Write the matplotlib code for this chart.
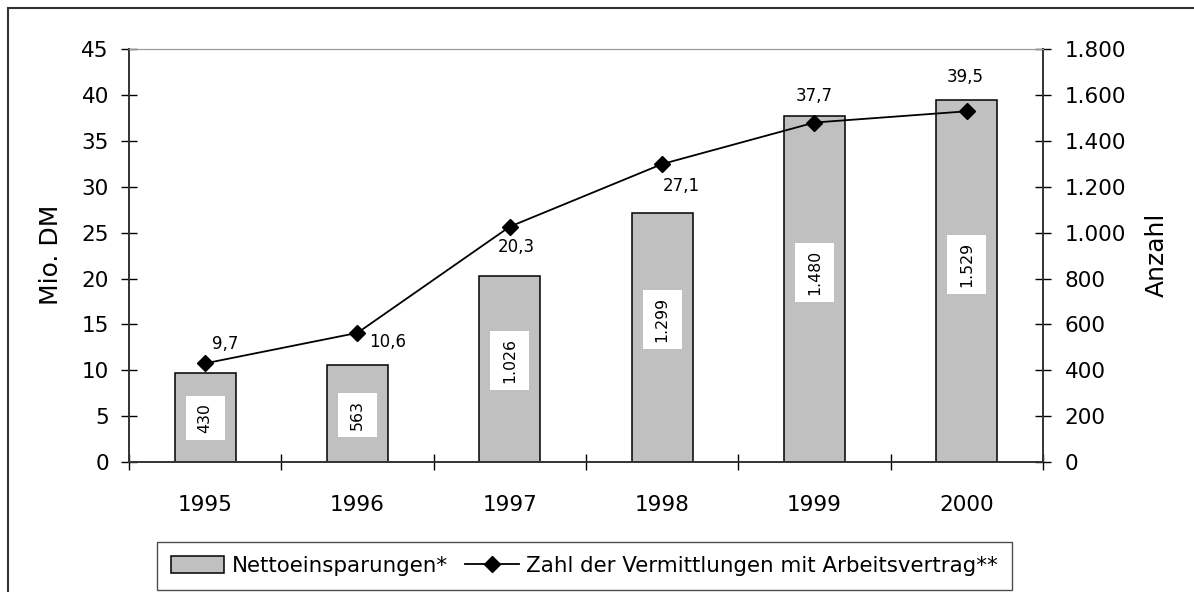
import numpy as np
import matplotlib
matplotlib.use("Agg")
import matplotlib.pyplot as plt
from matplotlib.patches import Rectangle, Patch
from matplotlib.lines import Line2D

plt.rcParams['font.family'] = ['DejaVu Sans']

years = ['1995', '1996', '1997', '1998', '1999', '2000']
einsparungen = [9.7, 10.6, 20.3, 27.1, 37.7, 39.5]          # Mio. DM (Balken)
vermittlungen = [430, 563, 1026, 1299, 1480, 1529]         # Anzahl (Linie)
einsp_labels = ['9,7', '10,6', '20,3', '27,1', '37,7', '39,5']
verm_labels = ['430', '563', '1.026', '1.299', '1.480', '1.529']
left_ticks = list(range(0, 50, 5))
right_ticks = list(range(0, 2000, 200))
right_ticklabels = ['0', '200', '400', '600', '800', '1.000', '1.200', '1.400', '1.600', '1.800']

# label placement: pixel offsets from the line marker, y of the white boxes on the left axis
einsp_offsets = [(20, 19), (30, -9), (7, -20), (19, -22), (0, 27), (-2, 34)]
box_y = [4.8, 5.1, 11.1, 15.5, 20.7, 21.5]

fig = plt.figure(figsize=(11.94, 5.92), dpi=100)
ax = fig.add_axes([0.108, 0.2196, 0.7655, 0.6974])
ax2 = ax.twinx()

x = np.arange(len(years))
ax.bar(x, einsparungen, width=0.4, color='#c0c0c0', edgecolor='black', linewidth=1.1, zorder=2)
ax.set_xlim(-0.5, len(years) - 0.5)
ax.set_ylim(0, 45)
ax.set_yticks(left_ticks)
ax.set_xticks(x)
ax.set_xticklabels(years)
ax.set_xticks(np.arange(len(years) + 1) - 0.5, minor=True)
ax.tick_params(axis='x', which='major', length=0, labelsize=15.5, pad=24)
ax.tick_params(axis='x', which='minor', direction='inout', length=11, width=1)
ax.tick_params(axis='y', direction='inout', length=11, width=1, labelsize=15.5, pad=9)

ax2.plot(x, vermittlungen, color='black', linewidth=1.3, marker='D', markersize=8.5, zorder=3)
ax2.set_ylim(0, 1800)
ax2.set_yticks(right_ticks)
ax2.set_yticklabels(right_ticklabels)
ax2.tick_params(axis='y', direction='inout', length=11, width=1, labelsize=15.5, pad=10)

fig.text(51 / 1194, 1 - 255 / 592, 'Mio. DM', rotation=90, ha='center', va='center', fontsize=18)
fig.text(1157 / 1194, 1 - 255 / 592, 'Anzahl', rotation=90, ha='center', va='center', fontsize=18)

for a in (ax, ax2):
    a.spines['top'].set_color('#999999')
    for side in ('left', 'right', 'bottom'):
        a.spines[side].set_color('#333333')
        a.spines[side].set_linewidth(1.2)

box_texts = []
for i in range(len(years)):
    dx, dy = einsp_offsets[i]
    ax2.annotate(einsp_labels[i], (x[i], vermittlungen[i]), xytext=(dx * 0.72, dy * 0.72),
                 textcoords='offset points', ha='center', va='center', fontsize=12, zorder=5)
    t = ax.text(x[i], box_y[i], verm_labels[i], rotation=90, ha='center', va='center',
                fontsize=11.3, zorder=4)
    box_texts.append(t)

# white boxes behind the rotated labels (wider than tall padding, like the original)
fig.canvas.draw()
inv = fig.transFigure.inverted()
for t in box_texts:
    bb = t.get_window_extent()
    cx = (bb.x0 + bb.x1) / 2
    w = 39
    h = bb.height + 14
    (fx0, fy0) = inv.transform((cx - w / 2, bb.y0 - 7))
    (fx1, fy1) = inv.transform((cx + w / 2, bb.y0 - 7 + h))
    ax.add_patch(Rectangle((fx0, fy0), fx1 - fx0, fy1 - fy0, transform=fig.transFigure,
                           facecolor='white', edgecolor='none', zorder=3.5))

handles = [Patch(facecolor='#c0c0c0', edgecolor='black', linewidth=1.1),
           Line2D([], [], color='black', linewidth=1.3, marker='D', markersize=8.5)]
leg = fig.legend(handles, ['Nettoeinsparungen*', 'Zahl der Vermittlungen mit Arbeitsvertrag**'],
                 loc='lower center', bbox_to_anchor=(0.4895, 0.003), ncol=2, fontsize=15.4,
                 frameon=True, fancybox=False, handlelength=2.5, handleheight=0.85,
                 handletextpad=0.35, columnspacing=0.8, borderpad=0.65, borderaxespad=0.0)
leg.get_frame().set_edgecolor('#222222')
leg.get_frame().set_linewidth(1.0)

fig.patches.append(Rectangle((8 / 1194, -0.1), 1.2, 1.1 - 8 / 592, transform=fig.transFigure,
                             fill=False, edgecolor='#333333', linewidth=1.5))

fig.savefig('out.png', dpi=100)
